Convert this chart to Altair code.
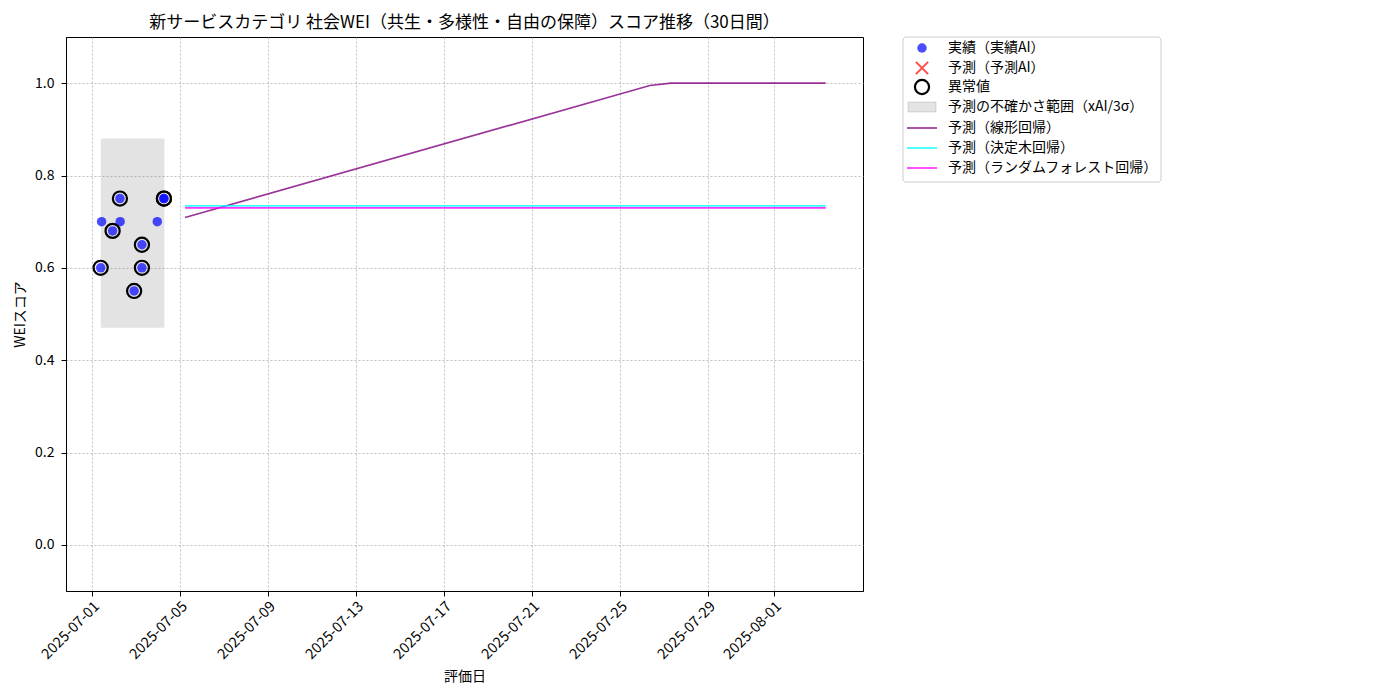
import altair as alt
import pandas as pd

FONT = "Noto Sans CJK JP"

# ---- data ----
actual_dates = ["2025-07-01T09:30:00", "2025-07-01T10:30:00", "2025-07-01T22:30:00",
                "2025-07-02T06:30:00", "2025-07-02T06:45:00", "2025-07-02T22:00:00",
                "2025-07-03T06:30:00", "2025-07-03T06:30:00", "2025-07-03T23:15:00",
                "2025-07-04T06:30:00", "2025-07-04T06:30:00"]
actual_scores = [0.60, 0.70, 0.68, 0.75, 0.70, 0.55, 0.65, 0.60, 0.70, 0.75, 0.75]
is_outlier = [True, False, True, True, False, True, True, True, False, True, True]

band_start = ["2025-07-01T09:40:00"]
band_end = ["2025-07-04T07:00:00"]
band_low = [0.47]
band_high = [0.88]

linear_dates = ["2025-07-05T05:30:00", "2025-07-26T08:40:00", "2025-07-27T07:40:00", "2025-08-03T08:30:00"]
linear_values = [0.709, 0.995, 1.0, 1.0]
tree_dates = ["2025-07-05T05:30:00", "2025-08-03T08:30:00"]
tree_values = [0.734, 0.734]
forest_dates = ["2025-07-05T05:30:00", "2025-08-03T08:30:00"]
forest_values = [0.730, 0.730]

tick_dates = [(7, 1), (7, 5), (7, 9), (7, 13), (7, 17), (7, 21), (7, 25), (7, 29), (8, 1)]

legend_labels = ["実績（実績AI）", "予測（予測AI）", "異常値", "予測の不確かさ範囲（xAI/3σ）",
                 "予測（線形回帰）", "予測（決定木回帰）", "予測（ランダムフォレスト回帰）"]

TITLE = "新サービスカテゴリ 社会WEI（共生・多様性・自由の保障）スコア推移（30日間）"

# ---- tables ----
actual_df = pd.DataFrame({"date": actual_dates, "score": actual_scores, "outlier": is_outlier})
outlier_df = actual_df[actual_df["outlier"]]
band_df = pd.DataFrame({"start": band_start, "end": band_end, "low": band_low, "high": band_high})
linear_df = pd.DataFrame({"date": linear_dates, "score": linear_values})
tree_df = pd.DataFrame({"date": tree_dates, "score": tree_values})
forest_df = pd.DataFrame({"date": forest_dates, "score": forest_values})

W, H = 797, 554

x_scale = alt.Scale(domain=[alt.DateTime(year=2025, month=6, date=29, hours=19, minutes=40),
                            alt.DateTime(year=2025, month=8, date=5, hours=1, minutes=10)])
y_scale = alt.Scale(domain=[-0.1, 1.1], nice=False, zero=False)

x_axis = alt.Axis(title="評価日", format="%Y-%m-%d", labelAngle=-45,
                  values=[alt.DateTime(year=2025, month=m, date=d) for m, d in tick_dates],
                  grid=True, labelFontSize=14.5, titlePadding=8)
y_axis = alt.Axis(title="WEIスコア", values=[0.0, 0.2, 0.4, 0.6, 0.8, 1.0], format=".1f", grid=True,
                  labelPadding=7, titlePadding=7)

X = lambda f: alt.X(f"{f}:T", scale=x_scale, axis=x_axis)
Y = lambda f: alt.Y(f"{f}:Q", scale=y_scale, axis=y_axis)

band = alt.Chart(band_df).mark_rect(color="#808080", opacity=0.22).encode(
    x=X("start"), x2="end", y=Y("low"), y2="high")

linear = alt.Chart(linear_df).mark_line(color="#800080", opacity=0.8, strokeWidth=1.7).encode(
    x=X("date"), y=Y("score"))
tree = alt.Chart(tree_df).mark_line(color="#00ffff", opacity=0.8, strokeWidth=1.7).encode(
    x=X("date"), y=Y("score"))
forest = alt.Chart(forest_df).mark_line(color="#ff00ff", opacity=0.8, strokeWidth=1.7).encode(
    x=X("date"), y=Y("score"))

points = alt.Chart(actual_df).mark_circle(color="#0000ff", opacity=0.7, size=90).encode(
    x=X("date"), y=Y("score"))
rings = alt.Chart(outlier_df).mark_point(shape="circle", filled=False, stroke="black",
                                         strokeWidth=2.2, size=200, opacity=1).encode(
    x=X("date"), y=Y("score"))

# ---- legend (drawn to the right of the plot area) ----
one = pd.DataFrame({"a": [0]})
row_y = [11, 31, 50, 70, 91, 111, 131]
sym_x = 856
lx0, lx1 = 841, 871
txt_x = 882

legend_layers = [
    alt.Chart(one).mark_rect(fill="white", stroke="#cccccc", strokeWidth=1, cornerRadius=3).encode(
        x=alt.value(837), x2=alt.value(1095), y=alt.value(0), y2=alt.value(145)),
    alt.Chart(one).mark_circle(color="#0000ff", opacity=0.7, size=90).encode(
        x=alt.value(sym_x), y=alt.value(row_y[0])),
    alt.Chart(one).mark_point(shape="M-1,-1L1,1M1,-1L-1,1", filled=False, stroke="#ff0000",
                              opacity=0.7, strokeWidth=2, size=150).encode(
        x=alt.value(sym_x), y=alt.value(row_y[1])),
    alt.Chart(one).mark_point(shape="circle", filled=False, stroke="black", strokeWidth=2.2,
                              size=200, opacity=1).encode(
        x=alt.value(sym_x), y=alt.value(row_y[2])),
    alt.Chart(one).mark_rect(fill="#808080", fillOpacity=0.22, stroke="#808080", strokeOpacity=0.25).encode(
        x=alt.value(lx0 + 1), x2=alt.value(lx1 - 1), y=alt.value(row_y[3] - 5), y2=alt.value(row_y[3] + 5)),
    alt.Chart(one).mark_rule(color="#800080", opacity=0.8, strokeWidth=1.7).encode(
        x=alt.value(lx0), x2=alt.value(lx1), y=alt.value(row_y[4])),
    alt.Chart(one).mark_rule(color="#00ffff", opacity=0.8, strokeWidth=1.7).encode(
        x=alt.value(lx0), x2=alt.value(lx1), y=alt.value(row_y[5])),
    alt.Chart(one).mark_rule(color="#ff00ff", opacity=0.8, strokeWidth=1.7).encode(
        x=alt.value(lx0), x2=alt.value(lx1), y=alt.value(row_y[6])),
]
for lab, yy in zip(legend_labels, row_y):
    legend_layers.append(
        alt.Chart(one).mark_text(text=lab, align="left", baseline="middle", font=FONT,
                                 fontSize=14, color="black").encode(
            x=alt.value(txt_x), y=alt.value(yy)))

chart = alt.layer(band, linear, tree, forest, points, rings, *legend_layers).properties(
    width=W, height=H,
    title=alt.TitleParams(TITLE, font=FONT, fontSize=17, fontWeight="normal", anchor="middle", offset=5),
).configure_view(stroke="black", strokeWidth=1).configure_axis(
    labelFont=FONT, titleFont=FONT, labelFontSize=14, titleFontSize=14, titleFontWeight="normal",
    labelColor="black", titleColor="black", domainColor="black", tickColor="black", tickSize=5,
    gridColor="#b0b0b0", gridDash=[2, 2], gridOpacity=0.8, labelPadding=3,
)

chart.save("out.html", embed_options={"renderer": "svg", "actions": False})
